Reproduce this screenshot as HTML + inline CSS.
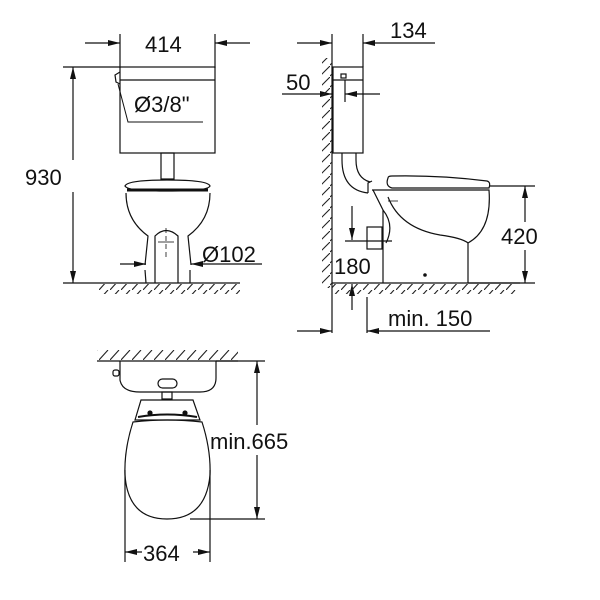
<!DOCTYPE html>
<html><head><meta charset="utf-8"><style>
html,body{margin:0;padding:0;background:#fff;}
svg{display:block;}
text{font-family:"Liberation Sans",sans-serif;font-size:22px;fill:#111;}
</style></head><body>
<svg width="600" height="600" viewBox="0 0 600 600" xmlns="http://www.w3.org/2000/svg">
<defs>
<pattern id="hf" width="11" height="10" patternUnits="userSpaceOnUse"><line x1="0" y1="10" x2="9" y2="0" stroke="#222" stroke-width="1.1"/></pattern>
<pattern id="hw" width="10" height="11" patternUnits="userSpaceOnUse"><line x1="0" y1="10" x2="10" y2="0" stroke="#222" stroke-width="1.1"/></pattern>
<marker id="a" viewBox="0 0 12 6" refX="12" refY="3" markerWidth="12" markerHeight="6" orient="auto" markerUnits="userSpaceOnUse"><path d="M0,0 L12,3 L0,6z" fill="#111"/></marker>
</defs>
<g fill="none" stroke="#111" stroke-width="1.2">
<!-- FRONT VIEW -->
<line x1="120" y1="34" x2="120" y2="68"/><line x1="215" y1="34" x2="215" y2="68"/>
<line x1="85" y1="43" x2="120" y2="43" marker-end="url(#a)"/>
<line x1="250" y1="43" x2="215" y2="43" marker-end="url(#a)"/>
<rect x="120" y="67" width="95" height="86"/>
<line x1="120" y1="80" x2="215" y2="80"/>
<path d="M120,72 L115,75 L116,82 L120,84"/>
<path d="M118,84 L128,122 L203,122" stroke-width="1"/>
<rect x="161" y="153" width="13" height="26"/>
<path d="M125,186 Q127,180 167,180 Q208,180 210,186 Q208,191 167,191 Q127,191 125,186z"/>
<line x1="127" y1="190" x2="208" y2="190" stroke-width="3"/>
<path d="M126,193 Q126,220 148,236 L145,265 M210,193 Q210,220 188,236 L191,265"/>
<path d="M155,283 L155,236 Q166,225 178,236 L178,283"/>
<line x1="166" y1="228" x2="166" y2="258" stroke-dasharray="5,3" stroke-width="0.8"/>
<line x1="158" y1="242" x2="174" y2="242" stroke-width="0.8"/>
<line x1="145" y1="270" x2="146" y2="283"/><line x1="190" y1="270" x2="190" y2="283"/>
<line x1="120" y1="264" x2="146" y2="264" marker-end="url(#a)"/>
<line x1="262" y1="264" x2="191" y2="264" marker-end="url(#a)"/>
<line x1="63" y1="67" x2="120" y2="67"/><line x1="63" y1="283" x2="98" y2="283"/>
<line x1="73" y1="160" x2="73" y2="67" marker-end="url(#a)"/>
<line x1="73" y1="192" x2="73" y2="283" marker-end="url(#a)"/>
<line x1="98" y1="283" x2="240" y2="283"/>
<!-- SIDE VIEW -->
<line x1="332" y1="34" x2="332" y2="333"/><line x1="363" y1="34" x2="363" y2="67"/>
<line x1="297" y1="43" x2="332" y2="43" marker-end="url(#a)"/>
<line x1="435" y1="43" x2="363" y2="43" marker-end="url(#a)"/>
<rect x="333" y="67" width="30" height="86"/>
<line x1="333" y1="80" x2="363" y2="80"/>
<rect x="341" y="74" width="5" height="4"/>
<line x1="345" y1="80" x2="345" y2="102"/>
<line x1="282" y1="94" x2="332" y2="94" marker-end="url(#a)"/>
<line x1="380" y1="94" x2="345" y2="94" marker-end="url(#a)"/>
<path d="M342,153 L342,160 Q342,190 368,193 M356,153 L356,160 Q356,178 370,182"/>
<path d="M368,193 L368,183 L372,181"/>
<path d="M373,190 L383,210 L383,283 M383,210 Q395,225 386,243"/>
<rect x="367" y="227" width="15" height="22"/>
<path d="M388,178 Q385,186 392,188 L489,188 Q491,182 487,181 Q440,175 392,176 Q388,176 388,178z"/>
<path d="M372,190 L489,190 Q492,230 468,243 L468,283 M388,197 Q400,228 440,235 Q462,238 468,243"/>
<line x1="388" y1="201" x2="398" y2="201" stroke-width="0.8"/>
<circle cx="425" cy="275" r="1.2" fill="#111"/>
<line x1="489" y1="186" x2="535" y2="186"/><line x1="468" y1="283" x2="535" y2="283"/>
<line x1="525" y1="222" x2="525" y2="186" marker-end="url(#a)"/>
<line x1="525" y1="250" x2="525" y2="283" marker-end="url(#a)"/>
<line x1="352" y1="206" x2="352" y2="240" marker-end="url(#a)"/>
<line x1="345" y1="241" x2="392" y2="241"/>
<line x1="352" y1="310" x2="352" y2="284" marker-end="url(#a)"/>
<line x1="332" y1="283" x2="520" y2="283"/>
<line x1="367" y1="297" x2="367" y2="333"/>
<line x1="297" y1="331" x2="332" y2="331" marker-end="url(#a)"/>
<line x1="490" y1="331" x2="367" y2="331" marker-end="url(#a)"/>
<!-- TOP VIEW -->
<line x1="97" y1="361" x2="238" y2="361"/>
<path d="M120,361 L120,380 Q122,392 140,392 L200,392 Q216,392 216,378 L216,361"/>
<rect x="113" y="370" width="6" height="6" rx="2"/>
<rect x="158" y="379" width="19" height="9" rx="4.5"/>
<rect x="162" y="392" width="10" height="7"/>
<path d="M141,400 L193,400 L200,420 L135,420 Z"/>
<path d="M138,417 Q167,412 197,417" stroke-width="2"/>
<circle cx="150" cy="413" r="2" fill="#111"/><circle cx="185" cy="413" r="2" fill="#111"/>
<path d="M133,422 Q167,418 202,422 Q211,450 210,475 Q206,519 167,519 Q128,519 125,475 Q124,450 133,422z"/>
<line x1="216" y1="361" x2="265" y2="361"/><line x1="190" y1="519" x2="265" y2="519"/>
<line x1="257" y1="425" x2="257" y2="361" marker-end="url(#a)"/>
<line x1="257" y1="455" x2="257" y2="519" marker-end="url(#a)"/>
<line x1="125" y1="470" x2="125" y2="562"/><line x1="210" y1="470" x2="210" y2="562"/>
<line x1="142" y1="552" x2="125" y2="552" marker-end="url(#a)"/>
<line x1="193" y1="552" x2="210" y2="552" marker-end="url(#a)"/>
</g>
<g stroke="none">
<rect x="98" y="284" width="142" height="10" fill="url(#hf)"/>
<rect x="332" y="284" width="185" height="10" fill="url(#hf)"/>
<rect x="322" y="58" width="10" height="230" fill="url(#hw)"/>
<rect x="97" y="350" width="141" height="10" fill="url(#hf)"/>
</g>
<text x="145" y="52">414</text>
<text x="134" y="112">Ø3/8"</text>
<text x="25" y="185">930</text>
<text x="202" y="262">Ø102</text>
<text x="390" y="38">134</text>
<text x="286" y="90">50</text>
<text x="501" y="244">420</text>
<text x="334" y="274">180</text>
<text x="388" y="326">min. 150</text>
<text x="210" y="449">min.665</text>
<text x="143" y="561">364</text>
</svg>
</body></html>
